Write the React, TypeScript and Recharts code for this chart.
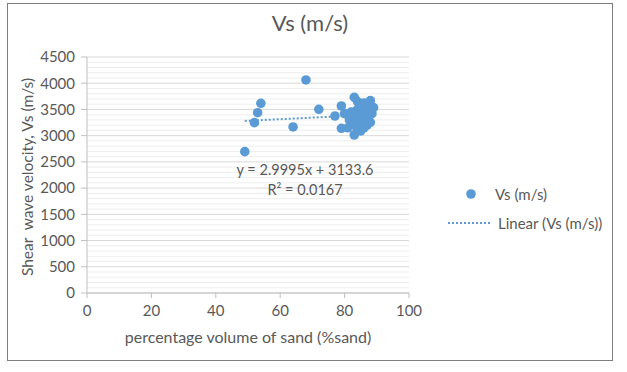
import { ScatterChart, Scatter, XAxis, YAxis, CartesianGrid, ReferenceLine } from 'recharts';

// ─── Data ────────────────────────────────────────────────────────────────────
const sandPct = [
  49, 52, 53, 54, 64, 68, 72, 77, 79, 79,
  80, 81, 81.5, 82, 82, 83, 83, 83, 83.5, 84,
  84, 84, 84.5, 85, 85, 85, 85.5, 86, 86, 86,
  86.5, 87, 87, 87, 87.5, 88, 88, 88.5, 89, 85,
];
const vsValues = [
  2695, 3248, 3438, 3617, 3166, 4062, 3503, 3375, 3566, 3140,
  3420, 3150, 3300, 3200, 3450, 3731, 3013, 3350, 3250, 3100,
  3500, 3650, 3380, 3200, 3560, 3300, 3450, 3150, 3620, 3350,
  3250, 3500, 3400, 3200, 3600, 3668, 3255, 3420, 3534, 3090,
];
// trendline end points (y = 2.9995x + 3133.6)
const trendX = [49, 89];
const trendY = [3281, 3401];

const xTicks = [0, 20, 40, 60, 80, 100];
const yTicks = [0, 500, 1000, 1500, 2000, 2500, 3000, 3500, 4000, 4500];
// minor gridlines every 100 between the major ones
const yMinor = Array.from({ length: 46 }, (_, i) => i * 100).filter((v) => v % 500 !== 0);

const points = sandPct.map((x, i) => ({ x, y: vsValues[i] }));
const trend = trendX.map((x, i) => ({ x, y: trendY[i] }));

const BLUE = '#5b9bd5';
const TEXT = '#595959';
const FONT = 'Lato, "Open Sans", sans-serif';

export default function App() {
  return (
    <div
      style={{
        position: 'absolute', left: 7, top: 3, width: 606, height: 358,
        border: '1px solid #7f7f7f', boxSizing: 'border-box', background: '#fff',
        fontFamily: FONT, color: TEXT,
      }}
    >
      <div style={{ position: 'absolute', left: 0, right: 0, top: 5, textAlign: 'center', fontSize: 22 }}>
        Vs (m/s)
      </div>

      <ScatterChart
        width={604}
        height={356}
        margin={{ top: 53, right: 203, bottom: 27, left: 19 }}
        style={{ position: 'absolute', left: 0, top: 0 }}
      >
        {yMinor.map((v) => (
          <ReferenceLine key={v} y={v} stroke="#eeeeee" strokeWidth={1} />
        ))}
        <CartesianGrid vertical={false} stroke="#d9d9d9" strokeWidth={1} />
        <XAxis
          type="number" dataKey="x" domain={[0, 100]} ticks={xTicks} height={40}
          tick={{ fill: TEXT, fontSize: 15, fontFamily: FONT }}
          stroke="#bfbfbf" tickSize={5} tickMargin={7}
        />
        <YAxis
          type="number" dataKey="y" domain={[0, 4500]} ticks={yTicks} width={60}
          tick={{ fill: TEXT, fontSize: 15, fontFamily: FONT }}
          stroke="#bfbfbf" tickSize={6} tickMargin={6}
        />
        <Scatter
          data={trend}
          line={{ stroke: BLUE, strokeWidth: 2, strokeDasharray: '2 2' }}
          shape={() => <g />}
          isAnimationActive={false}
        />
        <Scatter
          data={points}
          fill={BLUE}
          shape={(p: any) => <circle cx={p.cx} cy={p.cy} r={4.8} fill={BLUE} />}
          isAnimationActive={false}
        />
      </ScatterChart>

      {/* trendline equation */}
      <div style={{ position: 'absolute', left: 212, width: 170, top: 156, textAlign: 'center', fontSize: 14.5, lineHeight: '20px' }}>
        <div>y = 2.9995x + 3133.6</div>
        <div>R² = 0.0167</div>
      </div>

      {/* axis titles */}
      <div
        style={{
          position: 'absolute', left: 19, top: 173, width: 0, height: 0,
          display: 'flex', alignItems: 'center', justifyContent: 'center',
        }}
      >
        <div style={{ transform: 'rotate(-90deg)', whiteSpace: 'pre', fontSize: 15.5 }}>
          {'Shear  wave velocity, Vs (m/s)'}
        </div>
      </div>
      <div style={{ position: 'absolute', left: 79, width: 322, top: 323, textAlign: 'center', fontSize: 16 }}>
        percentage volume of sand (%sand)
      </div>

      {/* legend */}
      <div style={{ position: 'absolute', left: 440, top: 176, fontSize: 15 }}>
        <div style={{ display: 'flex', alignItems: 'center', height: 28 }}>
          <svg width={47} height={12}>
            <circle cx={23} cy={6} r={4.8} fill={BLUE} />
          </svg>
          <span>Vs (m/s)</span>
        </div>
        <div style={{ display: 'flex', alignItems: 'center', height: 30 }}>
          <svg width={50} height={6}>
            <line x1={0} y1={3} x2={42} y2={3} stroke={BLUE} strokeWidth={2} strokeDasharray="2 2" />
          </svg>
          <span>Linear (Vs (m/s))</span>
        </div>
      </div>
    </div>
  );
}
